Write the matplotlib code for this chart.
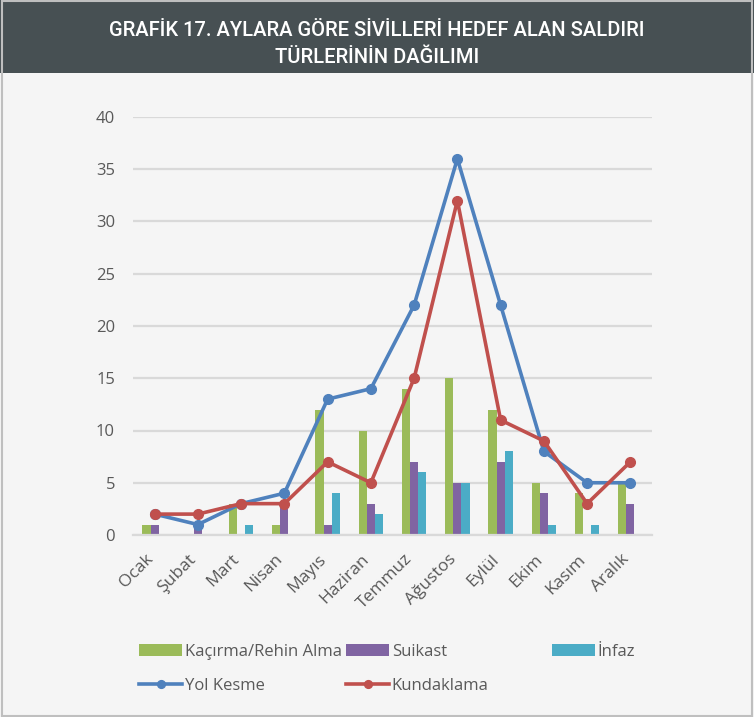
import numpy as np
import matplotlib.pyplot as plt
import matplotlib.patches as mpatches
import matplotlib.transforms as mtransforms

plt.rcParams['font.family'] = ['Open Sans', 'DejaVu Sans']

months = ['Ocak', 'Şubat', 'Mart', 'Nisan', 'Mayıs', 'Haziran',
          'Temmuz', 'Ağustos', 'Eylül', 'Ekim', 'Kasım', 'Aralık']
kacirma = [1, 0, 3, 1, 12, 10, 14, 15, 12, 5, 4, 5]
suikast = [1, 1, 0, 3, 1, 3, 7, 5, 7, 4, 0, 3]
infaz = [0, 0, 1, 0, 4, 2, 6, 5, 8, 1, 1, 0]
yol_kesme = [2, 1, 3, 4, 13, 14, 22, 36, 22, 8, 5, 5]
kundaklama = [2, 2, 3, 3, 7, 5, 15, 32, 11, 9, 3, 7]

c_green = '#9bbb59'
c_purple = '#8064a2'
c_cyan = '#4bacc6'
c_blue = '#4f81bd'
c_red = '#c0504d'
txt = '#595959'
grid = '#d9d9d9'

fig = plt.figure(figsize=(7.54, 7.17), dpi=100, facecolor='#f5f5f5')

# title band
fig.patches.append(mpatches.Rectangle((0, 1 - 73/717), 1, 73/717, transform=fig.transFigure,
                                      facecolor='#475053', edgecolor='none', zorder=0))
fig.patches.append(mpatches.Rectangle((0.002, 0.002), 0.996, 0.996, transform=fig.transFigure,
                                      facecolor='none', edgecolor='#bfbfbf', lw=1.5, zorder=1))
fig.text(0.5, 1 - 44/717, 'GRAFİK 17. AYLARA GÖRE SİVİLLERİ HEDEF ALAN SALDIRI\nTÜRLERİNİN DAĞILIMI',
         ha='center', va='center', color='white', fontsize=14.5, family='Roboto',
         fontweight='medium', linespacing=1.5)

ax = fig.add_axes([133/754, 1 - 535/717, (652 - 133)/754, (535 - 117)/717])
ax.set_facecolor('#f5f5f5')

x = np.arange(len(months))
w = 0.1875
b1 = ax.bar(x - w, kacirma, w, color=c_green, zorder=2)
b2 = ax.bar(x, suikast, w, color=c_purple, zorder=2)
b3 = ax.bar(x + w, infaz, w, color=c_cyan, zorder=2)
l1, = ax.plot(x, yol_kesme, color=c_blue, lw=2.6, marker='o', ms=7, zorder=3)
l2, = ax.plot(x, kundaklama, color=c_red, lw=2.6, marker='o', ms=7, zorder=4)

ax.set_xlim(-0.5, 11.5)
ax.set_ylim(0, 40)
ax.set_yticks(range(0, 41, 5))
ax.grid(axis='y', color=grid, lw=1.6, zorder=0)
for s in ['top', 'right', 'left']:
    ax.spines[s].set_visible(False)
ax.spines['bottom'].set_color(grid)
ax.spines['bottom'].set_linewidth(1.6)
ax.tick_params(length=0, colors=txt, labelsize=12)
ax.tick_params(axis='y', pad=13)
ax.set_xticks(x)
ax.set_xticklabels(months, rotation=45, ha='right', va='center', rotation_mode='anchor',
                   fontsize=12.5)
ax.tick_params(axis='x', pad=10)
shift = mtransforms.ScaledTranslation(-4/100, -8/100, fig.dpi_scale_trans)
for lab in ax.get_xticklabels():
    lab.set_transform(lab.get_transform() + shift)

# legend, one column at a time
def col_legend(handles, labels, xpos):
    fig.legend(handles, labels, loc='upper left', bbox_to_anchor=(xpos, 1 - 644/717),
               frameon=False, fontsize=12, labelcolor=txt, handlelength=2.6,
               handletextpad=0.15, labelspacing=1.05, borderaxespad=0, borderpad=0,
               markerscale=0.8)

col_legend([b1, l1], ['Kaçırma/Rehin Alma', 'Yol Kesme'], 139/754)
col_legend([b2, l2], ['Suikast', 'Kundaklama'], 346/754)
col_legend([b3], ['İnfaz'], 552/754)

fig.savefig('out.png', dpi=100, facecolor=fig.get_facecolor())
